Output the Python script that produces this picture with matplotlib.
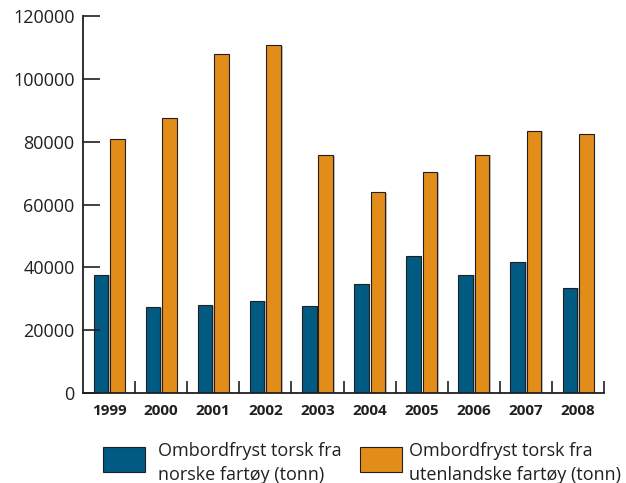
import matplotlib.pyplot as plt
import matplotlib.patheffects as pe
from matplotlib.patches import Rectangle
import numpy as np

years = ["1999", "2000", "2001", "2002", "2003", "2004", "2005", "2006", "2007", "2008"]
norske = [37700, 27300, 27900, 29400, 27800, 34700, 43600, 37600, 41700, 33500]
utenlandske = [80700, 87400, 107800, 110700, 75700, 63900, 70200, 75900, 83400, 82300]
labels = ["Ombordfryst torsk fra\nnorske fartøy (tonn)",
          "Ombordfryst torsk fra\nutenlandske fartøy (tonn)"]

blue = "#005a82"
orange = "#e28c1a"
ink = "#231f20"

plt.rcParams['font.family'] = ['Open Sans', 'DejaVu Sans']

fig = plt.figure(figsize=(6.26, 4.83), dpi=100)
ax = fig.add_axes([0.1326, 0.1863, 0.8324, 0.7805])

x = np.arange(len(years))
w = 0.28
shadow = [pe.SimplePatchShadow(offset=(1.2, -0.3), shadow_rgbFace="#888888", alpha=0.5), pe.Normal()]
b1 = ax.bar(x - 0.158, norske, w, color=blue, edgecolor=ink, linewidth=0.8)
b2 = ax.bar(x + 0.158, utenlandske, w, color=orange, edgecolor=ink, linewidth=0.8)
for b in list(b1) + list(b2):
    b.set_path_effects(shadow)

ax.set_xlim(-0.5, len(years) - 0.5)
ax.set_ylim(0, 120000)
ax.set_yticks(range(0, 120001, 20000))
ax.set_yticklabels([str(v) for v in range(0, 120001, 20000)], fontsize=13, color=ink)
ax.tick_params(axis="y", direction="in", length=12, width=1.2, color=ink, pad=6)

# year labels at centres, ticks at category borders
ax.set_xticks(x)
ax.set_xticklabels(years, fontsize=11, fontweight="bold", color=ink)
ax.tick_params(axis="x", which="major", length=0, pad=8)
ax.set_xticks(np.arange(0.5, len(years), 1.0), minor=True)
ax.tick_params(axis="x", which="minor", direction="in", length=9, width=1.2, color=ink)

for s in ["top", "right"]:
    ax.spines[s].set_visible(False)
for s in ["left", "bottom"]:
    ax.spines[s].set_color(ink)
    ax.spines[s].set_linewidth(1.3)

# legend drawn by hand in figure coordinates
W, H = 626, 483
for (px, color), (tx, text) in zip([(103, blue), (360, orange)], [(158, labels[0]), (409, labels[1])]):
    fig.patches.append(Rectangle((px / W, 1 - 472 / H), 42 / W, 25 / H, transform=fig.transFigure,
                                 facecolor=color, edgecolor=ink, linewidth=0.8))
    fig.text(tx / W, 1 - 463 / H, text, fontsize=13, color=ink, va="center", ha="left",
             linespacing=1.45)

fig.savefig("out.png", dpi=100)
